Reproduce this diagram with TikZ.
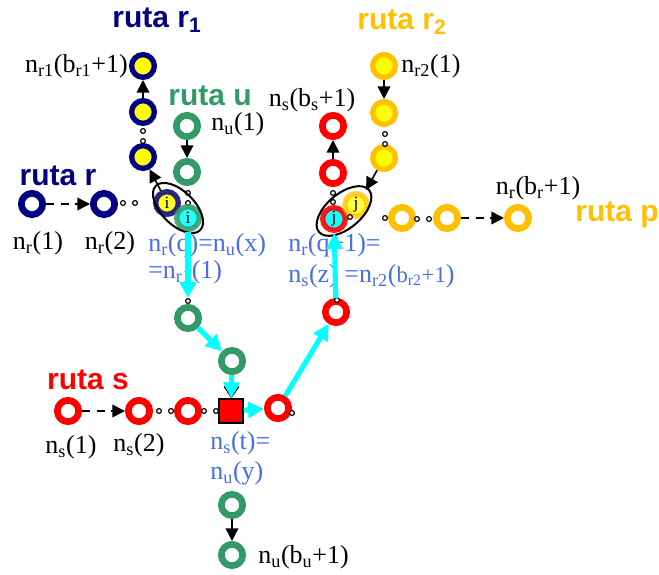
\documentclass[tikz,border=0pt]{standalone}
\usepackage{fontspec}
\setmainfont{Liberation Serif}
\newfontfamily\rutafont{Liberation Sans}
\usetikzlibrary{arrows.meta,shapes.geometric}
\definecolor{cnavy}{RGB}{0,0,128}
\definecolor{cgold}{RGB}{255,192,0}
\definecolor{cyel}{RGB}{255,255,0}
\definecolor{cred}{RGB}{255,0,0}
\definecolor{cgreen}{RGB}{51,153,102}
\definecolor{ccyan}{RGB}{0,255,255}
\definecolor{cblue}{RGB}{70,110,235}
\tikzset{
 ring/.style={circle, line width=5pt, minimum size=16pt, inner sep=0pt, font=\fontsize{13}{14}\selectfont},
 fring/.style={circle, line width=4pt, minimum size=17pt, inner sep=0pt, font=\fontsize{13}{14}\selectfont},
 nvr/.style={fring, draw=cnavy, fill=cyel},
 nvw/.style={ring, draw=cnavy, fill=white},
 gdr/.style={fring, draw=cgold, fill=cyel},
 gpr/.style={ring, draw=cgold, fill=white},
 rdr/.style={ring, draw=cred, fill=white},
 grr/.style={ring, draw=cgreen, fill=white},
 sdot/.style={circle, draw=black, fill=white, line width=0.9pt, minimum size=3.6pt, inner sep=0pt},
 lbl/.style={font=\fontsize{19.5}{22}\selectfont, inner sep=0pt},
 blbl/.style={lbl, text=cblue},
 ruta/.style={font=\rutafont\bfseries\fontsize{22.5}{26}\selectfont, inner sep=0pt},
 barr/.style={line width=1.2pt, -{Triangle[length=9.5pt,width=9.5pt]}},
 darr/.style={barr, dash pattern=on 6pt off 5pt},
 carr/.style={draw=ccyan, line width=3.8pt, -{Triangle[length=12pt,width=12pt]}},
 ell/.style={ellipse, draw=black, line width=1.5pt, inner sep=0pt},
}
\begin{document}
\begin{tikzpicture}[x=0.75pt,y=-0.75pt]
\useasboundingbox (0,0) rectangle (659,574);
% ---------- ruta r1
\node[ruta, text=cnavy] (tr1) at (157,20) {ruta r\textsubscript{1}};
\node[nvr] (r1a) at (143,66) {};
\node[nvr] (r1b) at (143,112) {};
\node[nvr] (r1c) at (143,157) {};
\node[sdot] (d1) at (143,131) {};
\node[sdot] (d2) at (143,141) {};
\node[lbl, anchor=east] (lr1) at (128,66) {n\textsubscript{r1}(b\textsubscript{r1}+1)};
\draw[barr] (r1b) -- (r1a);
% ---------- ruta u
\node[ruta, text=cgreen] (tu) at (210,96) {ruta u};
\node[grr] (u1) at (187,126) {};
\node[grr] (u2) at (187,172) {};
\node[sdot] (d3) at (188,193) {};
\node[sdot] (d4) at (188,203) {};
\node[lbl, anchor=west] (lu1) at (211,124) {n\textsubscript{u}(1)};
\draw[barr] (u1) -- (u2);
% ---------- ruta r
\node[ruta, text=cnavy] (tr) at (58,176) {ruta r};
\node[nvw] (rr1) at (32,204) {};
\node[nvw] (rr2) at (104,204) {};
\node[sdot] (d5) at (123,203) {};
\node[sdot] (d6) at (135,203) {};
\node[lbl] (lrr1) at (38,243) {n\textsubscript{r}(1)};
\node[lbl] (lrr2) at (110,243) {n\textsubscript{r}(2)};
\draw[darr] (rr1) -- (rr2);
% ---------- left ellipse
\node[nvr, opacity=0.85, text opacity=1] (ri) at (167,203) {i};
\node[fring, draw=cgreen, fill=ccyan, opacity=0.85, text opacity=1] (ui) at (188,218) {i};
\node[ell, minimum width=47pt, minimum height=25pt, rotate=-45] (e1) at (178,208) {};
\coordinate (e1t) at (161,191);
\draw[barr] (e1t) -- (r1c);
% ---------- ruta r2
\node[ruta, text=cgold] (tr2) at (402,22) {ruta r\textsubscript{2}};
\node[gdr] (r2a) at (384,66) {};
\node[gdr] (r2b) at (384,113) {};
\node[gdr] (r2c) at (384,158) {};
\node[sdot] (d7) at (385,134) {};
\node[sdot] (d8) at (385,144) {};
\node[lbl, anchor=west] (lr2) at (401,66) {n\textsubscript{r2}(1)};
\draw[barr] (r2a) -- (r2b);
% ---------- red column
\node[rdr] (sa) at (333,126) {};
\node[rdr] (sb) at (333,173) {};
\node[sdot] (d9) at (333,193) {};
\node[sdot] (d10) at (333,202) {};
\node[lbl] (lsb) at (312,100) {n\textsubscript{s}(b\textsubscript{s}+1)};
\draw[barr] (sb) -- (sa);
% ---------- right ellipse
\node[fring, draw=cred, fill=ccyan, opacity=0.9, text opacity=1] (rj) at (334,219) {j};
\node[gdr, opacity=0.75, text opacity=1] (yj) at (356,205) {j};
\node[sdot] (d11) at (350,217) {};
\node[ell, minimum width=49pt, minimum height=26pt, rotate=40] (e2) at (344,211) {};
\coordinate (e2t) at (366,190);
\draw[barr] (r2c) -- (e2t);
% ---------- ruta p
\node[gpr] (p1) at (402,218) {};
\node[gpr] (p2) at (447,218) {};
\node[gpr] (p3) at (518,218) {};
\node[sdot] (d12) at (385,218) {};
\node[sdot] (d13) at (417,219) {};
\node[sdot] (d14) at (429,219) {};
\node[lbl] (lp3) at (538,188) {n\textsubscript{r}(b\textsubscript{r}+1)};
\node[ruta, text=cgold] (tp) at (617,215) {ruta p};
\draw[darr] (p2) -- (p3);
% ---------- blue labels (upper)
\node[blbl, anchor=west] (bq1) at (148,245) {n\textsubscript{r}(q)=n\textsubscript{u}(x)};
\node[blbl, anchor=west] (bq2) at (148,272) {=n\textsubscript{r1}(1)};
\node[blbl, anchor=west] (bq3) at (288,245) {n\textsubscript{r}(q+1)=};
\node[blbl, anchor=west] (bq4) at (288,276) {n\textsubscript{s}(z) =n\textsubscript{r2}({\fontsize{17}{20}\selectfont b\textsubscript{r2}+1})};
% ---------- middle green
\node[grr] (g3) at (188,318) {};
\node[grr] (g4) at (232,361) {};
\node[sdot] (d15) at (188,301) {};
% ---------- ruta s
\node[ruta, text=cred] (ts) at (88,380) {ruta s};
\node[rdr] (s1) at (68,411) {};
\node[rdr] (s2) at (139,411) {};
\node[rdr] (s3) at (188,411) {};
\node[draw=black, fill=cred, line width=1pt, minimum size=18pt, inner sep=0pt] (sq) at (231,411) {};
\node[rdr] (s4) at (278,408) {};
\node[rdr] (s5) at (336,312) {};
\node[sdot] (d16) at (159,411) {};
\node[sdot] (d17) at (171,411) {};
\node[sdot] (d18) at (204,411) {};
\node[sdot] (d19) at (216,411) {};
\node[sdot] (d20) at (292,413) {};
\node[sdot] (d21) at (337,300) {};
\node[lbl] (ls1) at (71,447) {n\textsubscript{s}(1)};
\node[lbl] (ls2) at (139,445) {n\textsubscript{s}(2)};
\draw[darr] (s1) -- (s2);
\node[blbl, anchor=west] (bt1) at (210,443) {n\textsubscript{s}(t)=};
\node[blbl, anchor=west] (bt2) at (210,473) {n\textsubscript{u}(y)};
% ---------- bottom green
\node[grr] (gb1) at (232,505) {};
\node[grr] (gb2) at (232,555) {};
\node[lbl, anchor=west] (lgb) at (258,557) {n\textsubscript{u}(b\textsubscript{u}+1)};
\draw[barr] (gb1) -- (gb2);
% ---------- black open arrow under cyan
\draw[line width=1pt, -{Straight Barb[length=8pt,width=11pt]}] (g4) -- (sq);
% ---------- cyan path
\draw[carr] (ui) -- (d15);
\draw[carr] (g3) -- (g4);
\draw[carr] (g4) -- (sq);
\draw[carr] (sq) -- (s4);
\draw[carr] (s4) -- (s5);
\draw[carr] (s5) -- (rj);
\end{tikzpicture}
\end{document}
